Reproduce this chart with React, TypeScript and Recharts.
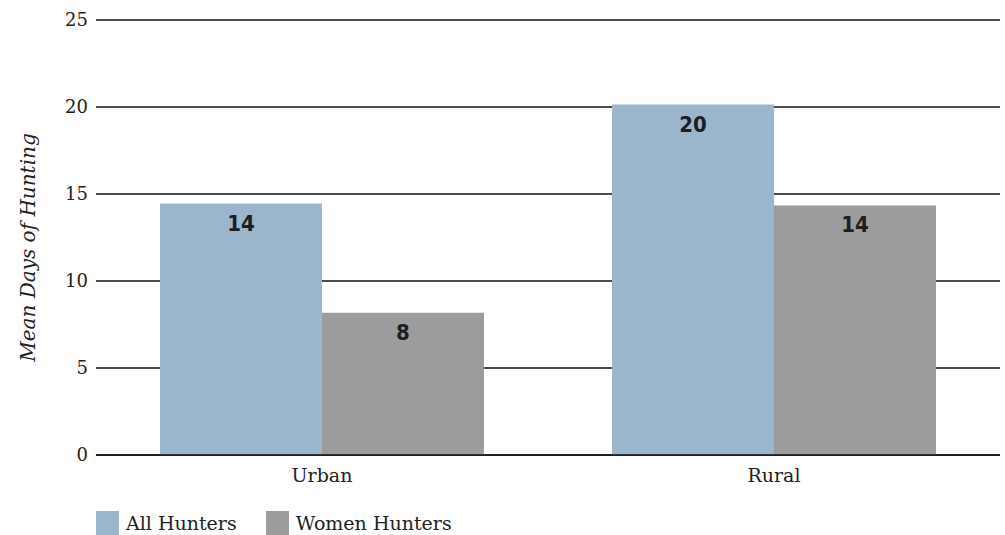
import React from "react";
import { BarChart, Bar, XAxis, YAxis, CartesianGrid, LabelList } from "recharts";

const categories = ["Urban", "Rural"];
const allHunters = [14.45, 20.14];
const womenHunters = [8.17, 14.34];
const yTicks = [0, 5, 10, 15, 20, 25];

const series = [
  { key: "all", name: "All Hunters", color: "#9ab5cc" },
  { key: "women", name: "Women Hunters", color: "#9c9c9c" },
];

const data = categories.map((c, i) => ({ name: c, all: allHunters[i], women: womenHunters[i] }));

const serif = "'DejaVu Serif', 'Liberation Serif', serif";
const narrow = "'DejaVu Sans', sans-serif";

const BarValue = (props: any) => {
  const { x, y, width, value } = props;
  return (
    <text
      x={x + width / 2}
      y={y + 27}
      textAnchor="middle"
      fontFamily={narrow}
      fontWeight="bold"
      fontSize={22}
      fill="#1e1e1e"
      style={{ fontStretch: "condensed" }}
    >
      {Math.round(value)}
    </text>
  );
};

export default function App() {
  return (
    <div style={{ position: "absolute", left: 0, top: 0, width: 1005, height: 535, background: "#fff" }}>
      <BarChart
        width={1005}
        height={535}
        data={data}
        margin={{ top: 20, right: 5, bottom: 55, left: 0 }}
        barCategoryGap={64}
        barGap={0}
      >
        <CartesianGrid vertical={false} stroke="#111" strokeWidth={1.3} />
        <XAxis
          dataKey="name"
          height={25}
          axisLine={{ stroke: "#111", strokeWidth: 1.5 }}
          tickLine={false}
          tick={{ fontFamily: serif, fontSize: 19, fill: "#222", dy: 6 }}
        />
        <YAxis
          width={96}
          domain={[0, 25]}
          ticks={yTicks}
          axisLine={false}
          tickLine={false}
          tick={{ fontFamily: serif, fontSize: 18, fill: "#222" }}
          label={{
            value: "Mean Days of Hunting",
            angle: -90,
            position: "insideLeft",
            textAnchor: "middle",
            dx: 23,
            dy: 10,
            style: { fontFamily: serif, fontStyle: "italic", fontSize: 20, fill: "#222" },
          }}
        />
        {series.map((s) => (
          <Bar key={s.key} dataKey={s.key} name={s.name} fill={s.color} isAnimationActive={false}>
            <LabelList dataKey={s.key} content={BarValue} />
          </Bar>
        ))}
      </BarChart>
      <div
        style={{
          position: "absolute",
          left: 96,
          top: 511,
          display: "flex",
          alignItems: "center",
          fontFamily: serif,
          fontSize: 19,
          color: "#222",
        }}
      >
        {series.map((s) => (
          <div key={s.key} style={{ display: "flex", alignItems: "center", marginRight: 29 }}>
            <span style={{ width: 23, height: 24, background: s.color, display: "inline-block", marginRight: 7 }} />
            <span>{s.name}</span>
          </div>
        ))}
      </div>
    </div>
  );
}
